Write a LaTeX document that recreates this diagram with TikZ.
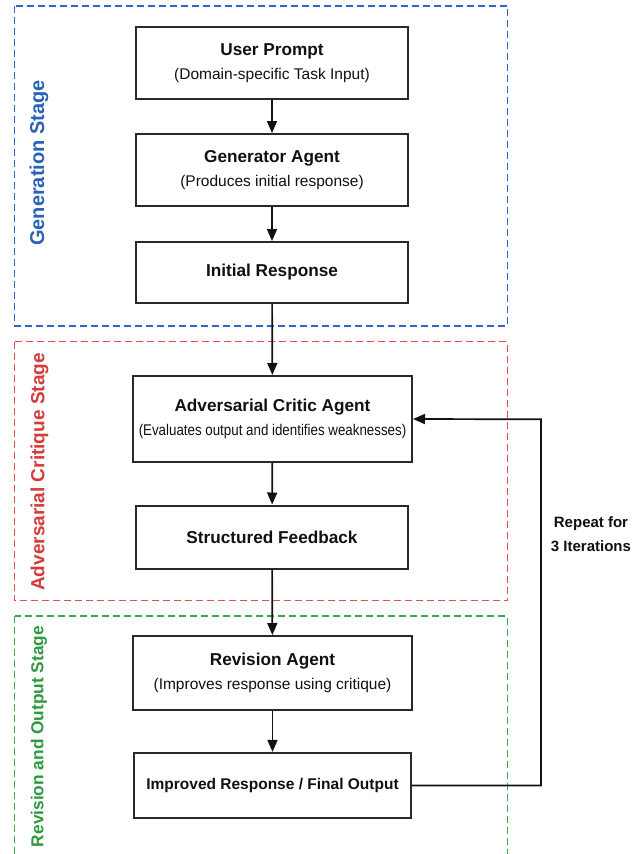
\documentclass[tikz,border=0pt]{standalone}
\usepackage{fontspec}
\setmainfont{Liberation Sans}
\usetikzlibrary{arrows.meta}
\definecolor{genblue}{HTML}{3366CC}
\definecolor{genbluet}{HTML}{2A62B8}
\definecolor{crired}{HTML}{E84C4C}
\definecolor{criredt}{HTML}{D63A3A}
\definecolor{revgreen}{HTML}{3AA84C}
\definecolor{revgreent}{HTML}{2E9A40}
\definecolor{ink}{HTML}{111111}
\tikzset{
  stagebox/.style={line width=1.6pt, dash pattern=on 7pt off 4pt},
  stagelabel/.style={rotate=90, font=\bfseries\fontsize{20}{24}\selectfont, inner sep=0pt},
  procbox/.style={draw=ink!90, line width=2pt, fill=white, align=center, text=ink, inner sep=2pt},
  flow/.style={draw=ink, line width=1.7pt, -{Triangle[length=12pt,width=10pt]}},
}
\newcommand{\bt}[1]{{\bfseries\fontsize{17.2}{20}\selectfont #1}}
\newcommand{\st}[1]{{\fontsize{15.5}{18}\selectfont #1}}
\begin{document}
\begin{tikzpicture}[x=1pt,y=-1pt]
\useasboundingbox (0,0) rectangle (644,854);
\fill[white] (0,0) rectangle (644,854);
% stage boxes
\draw[stagebox, genblue] (14.6,6) rectangle (507.5,325.7);
\draw[stagebox, crired, line width=1.3pt] (14.6,341.7) rectangle (507.5,600.7);
\draw[stagebox, revgreen, line width=1.3pt] (14.6,616) rectangle (507.5,880);
% stage labels
\node[stagelabel, text=genbluet] (lg) at (39,163) {Generation Stage};
\node[stagelabel, text=criredt, font=\bfseries\fontsize{19}{23}\selectfont] (la) at (39.5,472) {Adversarial Critique Stage};
\node[stagelabel, text=revgreent, font=\bfseries\fontsize{17.3}{21}\selectfont] (lr) at (39,736.5) {Revision and Output Stage};
% process boxes
\node[procbox, minimum width=272pt, minimum height=72pt] (up) at (272,63)
  {\bt{User Prompt}\\[8pt]\st{(Domain-specific Task Input)}};
\node[procbox, minimum width=272pt, minimum height=72pt] (ga) at (272,170)
  {\bt{Generator Agent}\\[8pt]\st{(Produces initial response)}};
\node[procbox, minimum width=272pt, minimum height=61pt] (ir) at (272,272.5)
  {\bt{Initial Response}};
\node[procbox, minimum width=279pt, minimum height=86pt] (ac) at (272.5,419)
  {\bt{Adversarial Critic Agent}\\[8pt]\st{\scalebox{0.86}[1]{(Evaluates output and identifies weaknesses)}}};
\node[procbox, minimum width=272pt, minimum height=63pt] (sf) at (272,537)
  {\bt{Structured Feedback}};
\node[procbox, minimum width=279pt, minimum height=74pt] (ra) at (272.5,673)
  {\bt{Revision Agent}\\[8pt]\st{(Improves response using critique)}};
\node[procbox, minimum width=277pt, minimum height=65pt] (fo) at (272.5,785.4)
  {{\bfseries\fontsize{15.5}{18}\selectfont Improved Response / Final Output}};
% loop label
\node[align=center, text=ink, font=\bfseries\fontsize{15}{24}\selectfont] (rep) at (591,534) {Repeat for\\3 Iterations};
% connectors
\draw[flow] (up) -- (ga);
\draw[flow] (ga) -- (ir);
\draw[flow] (ir) -- (ac);
\draw[flow] (ac) -- (sf);
\draw[flow] (sf) -- (ra);
\draw[flow] (ra) -- (fo);
\coordinate (lb) at (541,785.4);
\coordinate (lt) at (541,419.3);
\draw[flow] (fo.east) -- (lb) -- (lt) -- (ac.east);
\end{tikzpicture}
\end{document}
